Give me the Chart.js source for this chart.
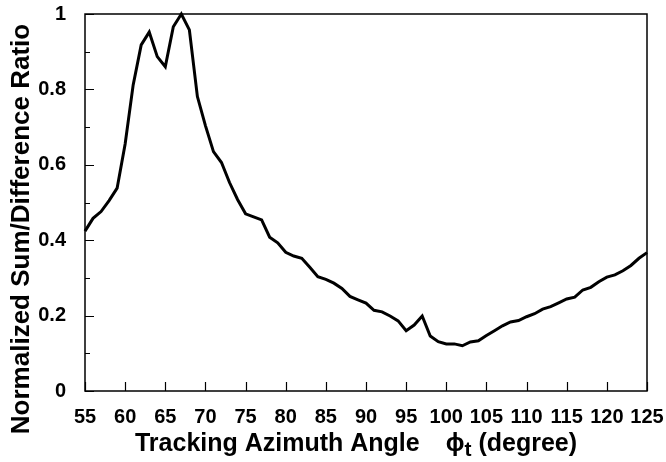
<!DOCTYPE html>
<html>
<head>
<meta charset="utf-8">
<script src="https://cdn.jsdelivr.net/npm/chart.js@4/dist/chart.umd.min.js"></script>
<style>
  body { margin: 0; background: #fff; }
  canvas { display: block; }
</style>
</head>
<body>
<canvas id="ratioChart" width="666" height="462"></canvas>
<script>
// tracking azimuth angle (degree)
const angles = [55, 56, 57, 58, 59, 60, 61, 62, 63, 64, 65, 66, 67, 68, 69, 70,
  71, 72, 73, 74, 75, 76, 77, 78, 79, 80, 81, 82, 83, 84, 85, 86, 87, 88, 89, 90,
  91, 92, 93, 94, 95, 96, 97, 98, 99, 100, 101, 102, 103, 104, 105, 106, 107, 108,
  109, 110, 111, 112, 113, 114, 115, 116, 117, 118, 119, 120, 121, 122, 123, 124, 125];

// normalized sum/difference ratio
const ratios = [0.424, 0.458, 0.476, 0.505, 0.538, 0.655, 0.812, 0.918, 0.952, 0.887,
  0.860, 0.966, 1.000, 0.958, 0.781, 0.704, 0.635, 0.606, 0.553, 0.508, 0.470, 0.462,
  0.454, 0.408, 0.393, 0.368, 0.358, 0.352, 0.328, 0.303, 0.296, 0.286, 0.272, 0.251,
  0.242, 0.233, 0.214, 0.210, 0.199, 0.186, 0.160, 0.175, 0.199, 0.146, 0.131, 0.125,
  0.125, 0.120, 0.130, 0.133, 0.147, 0.160, 0.173, 0.183, 0.187, 0.197, 0.205, 0.217,
  0.224, 0.234, 0.244, 0.249, 0.268, 0.275, 0.290, 0.302, 0.308, 0.319, 0.333, 0.352, 0.367];

const xTicks = [55, 60, 65, 70, 75, 80, 85, 90, 95, 100, 105, 110, 115, 120, 125];
const yTicks = [0, 0.2, 0.4, 0.6, 0.8, 1];
const yMinorTicks = [0.1, 0.3, 0.5, 0.7, 0.9];

const xTitle = ["Tracking Azimuth Angle", "\u03D5", "t", " (degree)"];
const yTitle = "Normalized Sum/Difference Ratio";

const FAMILY = "'Liberation Sans', Arial, Helvetica, sans-serif";

// keep the plot box fixed: no extra room for overhanging labels
function fixBox(size) {
  return s => {
    if (s.isHorizontal()) s.height = size; else s.width = size;
    s.paddingTop = s.paddingBottom = s.paddingLeft = s.paddingRight = 0;
  };
}

// frame, inward ticks and axis titles
const framePlugin = {
  id: "frame",
  afterDraw(chart) {
    const { ctx, chartArea: a, scales: { x, y } } = chart;
    ctx.save();
    ctx.strokeStyle = "#000";
    ctx.lineWidth = 1.5;
    ctx.strokeRect(a.left, a.top, a.right - a.left, a.bottom - a.top);

    ctx.lineWidth = 1.2;
    ctx.beginPath();
    xTicks.forEach(v => {
      const px = Math.round(x.getPixelForValue(v)) + 0.5;
      ctx.moveTo(px, a.bottom);
      ctx.lineTo(px, a.bottom - 9);
    });
    yTicks.forEach(v => {
      const py = Math.round(y.getPixelForValue(v)) + 0.5;
      ctx.moveTo(a.left, py);
      ctx.lineTo(a.left + 9, py);
    });
    yMinorTicks.forEach(v => {
      const py = Math.round(y.getPixelForValue(v)) + 0.5;
      ctx.moveTo(a.left, py);
      ctx.lineTo(a.left + 5, py);
    });
    ctx.stroke();

    // x title with subscript t
    ctx.fillStyle = "#000";
    ctx.textBaseline = "alphabetic";
    const big = "bold 25px " + FAMILY;
    const small = "bold 21px " + FAMILY;
    ctx.font = big;
    const w0 = ctx.measureText(xTitle[0]).width;
    const gap = 26;
    const w1 = ctx.measureText(xTitle[1]).width;
    const w3 = ctx.measureText(xTitle[3]).width;
    ctx.font = small;
    const w2 = ctx.measureText(xTitle[2]).width;
    const total = w0 + gap + w1 + w2 + w3;
    let tx = 356 - total / 2;
    const base = 451;
    ctx.font = big;
    ctx.textAlign = "left";
    ctx.fillText(xTitle[0], tx, base);
    tx += w0 + gap;
    ctx.fillText(xTitle[1], tx, base);
    tx += w1;
    ctx.font = small;
    ctx.fillText(xTitle[2], tx, base + 5);
    tx += w2;
    ctx.font = big;
    ctx.fillText(xTitle[3], tx, base);

    // y title
    ctx.translate(22, 229);
    ctx.rotate(-Math.PI / 2);
    ctx.textAlign = "center";
    ctx.textBaseline = "middle";
    ctx.font = "bold 26px " + FAMILY;
    ctx.fillText(yTitle, 0, 0);
    ctx.restore();
  }
};

const points = angles.map((a, i) => ({ x: a, y: ratios[i] }));

new Chart(document.getElementById("ratioChart"), {
  type: "line",
  data: {
    datasets: [{
      data: points,
      borderColor: "#000",
      borderWidth: 3,
      pointRadius: 0,
      tension: 0,
      fill: false,
      clip: false
    }]
  },
  options: {
    responsive: false,
    animation: false,
    events: [],
    layout: { padding: { top: 14, right: 19, left: 0, bottom: 0 } },
    plugins: {
      legend: { display: false },
      tooltip: { enabled: false }
    },
    scales: {
      x: {
        type: "linear",
        min: 55,
        max: 125,
        afterFit: fixBox(71),
        afterBuildTicks: s => { s.ticks = xTicks.map(v => ({ value: v })); },
        grid: { display: false },
        border: { display: false },
        ticks: {
          color: "#000",
          padding: 6,
          maxRotation: 0,
          autoSkip: false,
          font: { family: FAMILY, size: 20, weight: "bold" }
        }
      },
      y: {
        min: 0,
        max: 1,
        afterFit: fixBox(85),
        afterBuildTicks: s => { s.ticks = yTicks.map(v => ({ value: v })); },
        grid: { display: false },
        border: { display: false },
        ticks: {
          color: "#000",
          padding: 11,
          callback: v => String(v),
          font: { family: FAMILY, size: 20, weight: "bold" }
        }
      }
    }
  },
  plugins: [framePlugin]
});
</script>
</body>
</html>
